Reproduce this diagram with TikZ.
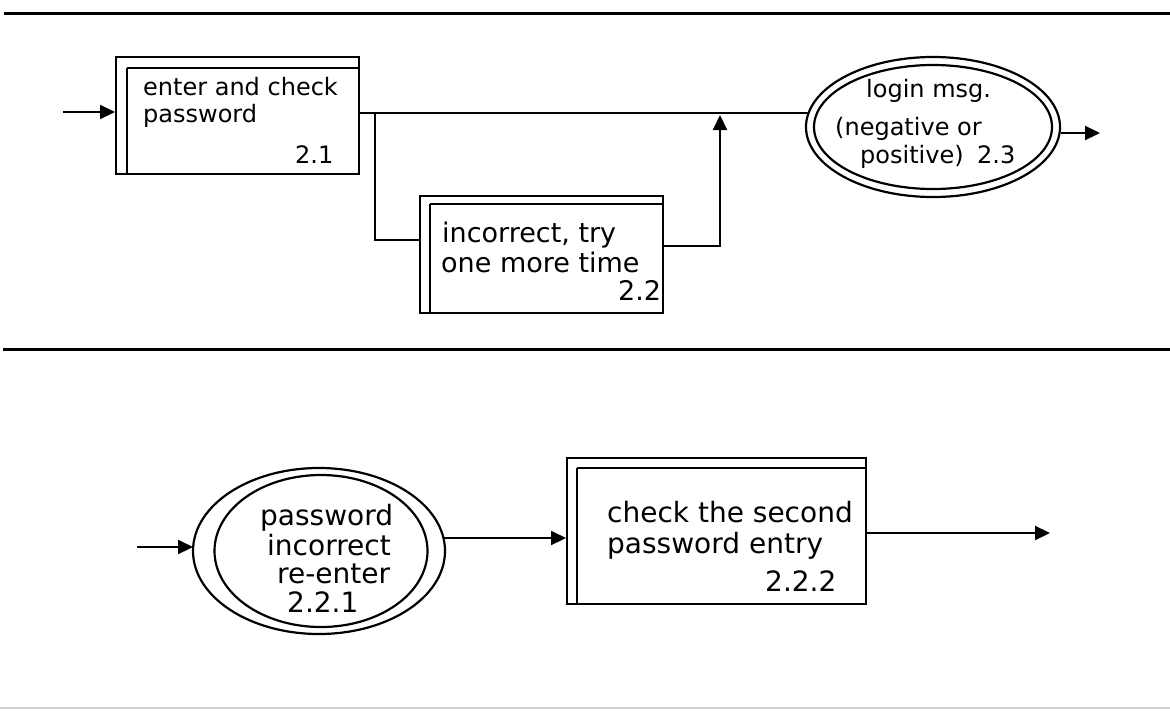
\documentclass[tikz,border=0pt]{standalone}
\usepackage{fontspec}
\setmainfont{DejaVu Sans}
\usetikzlibrary{shapes.geometric,arrows.meta,calc}
\tikzset{
  ln/.style={line width=2.2pt},
  flow/.style={ln,-{Triangle[length=15pt,width=14pt]}},
  procbox/.style={draw,ln,rectangle,anchor=north west,inner sep=0pt},
  oval/.style={draw,ln,ellipse,inner sep=0pt},
  lbl/.style={anchor=base west,inner sep=0pt},
  fA/.style={font=\fontsize{24}{29}\selectfont},
  fB/.style={font=\fontsize{27}{29}\selectfont},
  fC/.style={font=\fontsize{28}{29}\selectfont},
  rule/.style={line width=3pt}
}
\begin{document}
\begin{tikzpicture}[x=1pt,y=-1pt]
\useasboundingbox (0,0) rectangle (1170,710);
\fill[white] (0,0) rectangle (1170,710);
% horizontal rules
\coordinate (r1a) at (4,13); \coordinate (r1b) at (1170,13);
\coordinate (r2a) at (3,349); \coordinate (r2b) at (1170,349);
\coordinate (r3a) at (0,708); \coordinate (r3b) at (1170,708);
\draw[rule] (r1a) -- (r1b);
\draw[rule] (r2a) -- (r2b);
\draw[line width=2pt,gray!35] (r3a) -- (r3b);

% ---------- top section ----------
\node[procbox,minimum width=243pt,minimum height=117pt] (b21) at (115,56) {};
\draw[ln] ($(b21.north west)+(12,12)$) -- ($(b21.north east)+(0,12)$);
\draw[ln] ($(b21.north west)+(12,12)$) -- ($(b21.south west)+(12,0)$);
\node[lbl,fA] (t21a) at (143,95) {enter and check};
\node[lbl,fA] (t21b) at (143,122) {password};
\node[lbl,fA] (t21c) at (295,163) {2.1};

\node[procbox,minimum width=243pt,minimum height=117pt] (b22) at (419,195) {};
\draw[ln] ($(b22.north west)+(11,9)$) -- ($(b22.north east)+(0,9)$);
\draw[ln] ($(b22.north west)+(11,9)$) -- ($(b22.south west)+(11,0)$);
\node[lbl,fB] (t22a) at (442,242) {incorrect, try};
\node[lbl,fB] (t22b) at (441,272) {one more time};
\node[lbl,fB] (t22c) at (618,300) {2.2};

\node[oval,minimum width=254pt,minimum height=140pt] (e23) at (933,127) {};
\node[oval,minimum width=238pt,minimum height=124pt] (e23i) at (933,127) {};
\node[lbl,fA] (t23a) at (866,97) {login msg.};
\node[lbl,fA] (t23b) at (835,135) {(negative or};
\node[lbl,fA] (t23c) at (860,163) {positive)};
\node[lbl,fA] (t23d) at (977,163) {2.3};

\coordinate (in1) at (63,112);
\coordinate (j1) at (375,113);
\coordinate (j2) at (720,113);
\coordinate (j2t) at (720,115);
\coordinate (e23in) at (809,113);
\coordinate (out1) at (1100,133);

\draw[flow] (in1) -- (in1 -| b21.west);
\draw[ln] (b21.east |- j1) -- (j1) -- (j2) -- (e23in);
\draw[ln] (j1) |- ($(b22.west)+(0,-15)$);
\draw[flow] ($(b22.east)+(0,-9)$) -| (j2t);
\draw[flow] (e23.east |- out1) -- (out1);

% ---------- bottom section ----------
\node[oval,minimum width=252pt,minimum height=166pt] (e221) at (319,551) {};
\node[oval,minimum width=213pt,minimum height=152pt] (e221i) at (321,551) {};
\node[lbl,fC] (t221a) at (260,525) {password};
\node[lbl,fC] (t221b) at (267,555) {incorrect};
\node[lbl,fC] (t221c) at (277,583) {re-enter};
\node[lbl,fC] (t221d) at (287,612) {2.2.1};

\node[procbox,minimum width=299pt,minimum height=146pt] (b222) at (566,457) {};
\draw[ln] ($(b222.north west)+(11,11)$) -- ($(b222.north east)+(0,11)$);
\draw[ln] ($(b222.north west)+(11,11)$) -- ($(b222.south west)+(11,0)$);
\node[lbl,fC] (t222a) at (607,522) {check the second};
\node[lbl,fC] (t222b) at (607,553) {password entry};
\node[lbl,fC] (t222c) at (765,591) {2.2.2};

\coordinate (in2) at (137,547);
\coordinate (e221in) at (193,547);
\coordinate (m2) at (444,538);
\coordinate (out2) at (1050,533);

\draw[flow] (in2) -- (e221in);
\draw[flow] (m2) -- (m2 -| b222.west);
\draw[flow] (b222.east |- out2) -- (out2);
\end{tikzpicture}
\end{document}
